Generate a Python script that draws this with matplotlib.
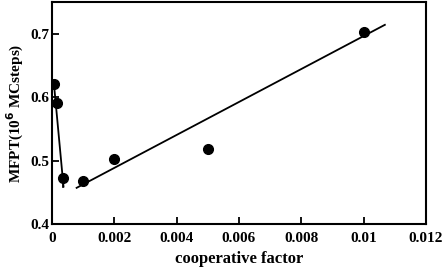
import matplotlib
matplotlib.use("Agg")
import matplotlib.pyplot as plt

# data
coop = [0.00007, 0.00015, 0.00035, 0.001, 0.002, 0.005, 0.01]
mfpt = [0.621, 0.590, 0.472, 0.467, 0.502, 0.519, 0.702]

# the two fitted lines (end points)
fit1_x = [0.00007, 0.00037]
fit1_y = [0.617, 0.459]
fit2_x = [0.00079, 0.01068]
fit2_y = [0.457, 0.714]

plt.rcParams['font.family'] = ['Liberation Serif', 'DejaVu Serif']
plt.rcParams['font.weight'] = 'bold'

fig = plt.figure(figsize=(4.42, 2.69), dpi=100)
ax = fig.add_axes([0.1176, 0.1673, 0.8462, 0.8253])

ax.plot(fit1_x, fit1_y, color='black', lw=1.3)
ax.plot(fit2_x, fit2_y, color='black', lw=1.3)
ax.plot(coop, mfpt, 'o', color='black', ms=7)
# small error bar on the third point
ax.plot([coop[2], coop[2]], [mfpt[2], 0.458], color='black', lw=1.2)

ax.set_xlim(0, 0.012)
ax.set_ylim(0.4, 0.75)
ax.set_xticks([0, 0.002, 0.004, 0.006, 0.008, 0.01, 0.012])
ax.set_xticklabels(['0', '0.002', '0.004', '0.006', '0.008', '0.01', '0.012'])
ax.set_yticks([0.4, 0.5, 0.6, 0.7])
ax.set_yticklabels(['0.4', '0.5', '0.6', '0.7'])

for s in ax.spines.values():
    s.set_linewidth(1.5)
ax.tick_params(direction='in', length=5, width=1.3, labelsize=11)
ax.tick_params(axis='x', pad=6)
ax.tick_params(axis='y', pad=2)
ax.tick_params(top=False, right=False)

ax.set_xlabel('cooperative factor', fontsize=12, fontweight='bold', labelpad=4)
ax.set_ylabel(r'MFPT(10$^{\mathbf{6}}$ MCsteps)', fontsize=11, fontweight='bold', labelpad=3)

fig.savefig('out.png', dpi=100)
